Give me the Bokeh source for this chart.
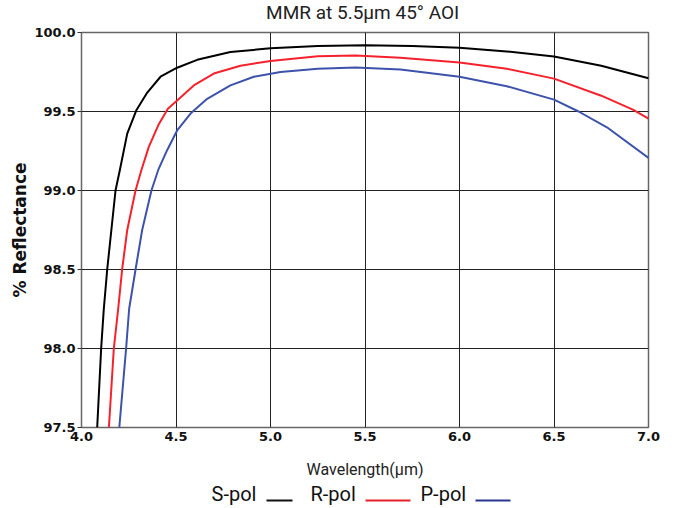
from bokeh.plotting import figure
from bokeh.models import Range1d, FixedTicker, NumeralTickFormatter
from bokeh.layouts import column
from bokeh.core.properties import value
from bokeh.embed import file_html
from bokeh.resources import INLINE

title_text = "MMR  at 5.5\u03bcm 45\u00b0 AOI"
x_label = "Wavelength(\u03bcm)"
y_label = "% Reflectance"
x_ticks = [4.0, 4.5, 5.0, 5.5, 6.0, 6.5, 7.0]
y_ticks = [97.5, 98.0, 98.5, 99.0, 99.5, 100.0]

# S-pol (black)
wl_s = [4.083, 4.104, 4.118, 4.136, 4.180, 4.203, 4.242, 4.291, 4.348, 4.418, 4.506,
        4.612, 4.788, 5.0, 5.25, 5.5, 5.75, 6.0, 6.25, 6.5, 6.75, 7.0]
r_s = [97.5, 98.0, 98.25, 98.5, 99.0, 99.13, 99.36, 99.51, 99.62, 99.72, 99.777,
       99.827, 99.876, 99.900, 99.915, 99.92, 99.915, 99.903, 99.88, 99.848, 99.79, 99.71]

# R-pol (red)
wl_r = [4.145, 4.171, 4.194, 4.215, 4.242, 4.286, 4.317, 4.356, 4.409, 4.457, 4.506,
        4.594, 4.70, 4.841, 5.0, 5.25, 5.45, 5.688, 6.0, 6.25, 6.5, 6.75, 6.92, 7.0]
r_r = [97.5, 98.0, 98.25, 98.5, 98.75, 99.0, 99.13, 99.276, 99.42, 99.518, 99.57,
       99.665, 99.74, 99.79, 99.82, 99.85, 99.855, 99.84, 99.81, 99.77, 99.708, 99.60, 99.51, 99.455]

# P-pol (blue)
wl_p = [4.20, 4.236, 4.252, 4.286, 4.321, 4.370, 4.406, 4.453, 4.506, 4.577, 4.665,
        4.788, 4.912, 5.053, 5.25, 5.45, 5.688, 6.0, 6.25, 6.5, 6.63, 6.78, 7.0]
r_p = [97.5, 98.0, 98.25, 98.5, 98.75, 99.0, 99.13, 99.255, 99.38, 99.487, 99.58,
       99.665, 99.72, 99.75, 99.77, 99.778, 99.766, 99.72, 99.66, 99.575, 99.50, 99.40, 99.206]

series_names = ["S-pol", "R-pol", "P-pol"]
series_colors = ["#000000", "#f5222d", "#3d52ab"]
legend_colors = ["#111111", "#e8202a", "#2a3590"]

W = 667
FRAME_L, FRAME_R = 81, 648  # frame edges in page pixels


def strip(height, y_top):
    """Axis-less figure whose coordinates are page pixels (y grows downward)."""
    f = figure(width=W, height=height,
               x_range=Range1d(FRAME_L, FRAME_R), y_range=Range1d(y_top + height, y_top),
               output_backend="svg", toolbar_location=None,
               x_axis_type=None, y_axis_type=None,
               min_border_left=FRAME_L, min_border_right=W - FRAME_R,
               min_border_top=0, min_border_bottom=0)
    f.outline_line_color = None
    f.grid.visible = False
    return f


# title strip
TH = 24
t = strip(TH, 0)
t.text(x=[(FRAME_L + FRAME_R) / 2], y=[11.5], text=[title_text], text_font=value("Roboto"),
       text_font_size="19px", text_baseline="middle", text_align="center",
       text_color="#222222")

# main chart
MH = 457
p = figure(width=W, height=MH, x_range=Range1d(4.0, 7.0), y_range=Range1d(97.5, 100.0),
           output_backend="svg", toolbar_location=None,
           min_border_left=FRAME_L, min_border_right=W - FRAME_R,
           min_border_top=32 - TH, min_border_bottom=53)

p.outline_line_color = "#666666"
p.outline_line_width = 1.5
p.grid.grid_line_color = "#222222"
p.grid.grid_line_width = 1
p.grid.grid_line_alpha = 1.0

p.xaxis.ticker = FixedTicker(ticks=x_ticks)
p.yaxis.ticker = FixedTicker(ticks=y_ticks)
p.xaxis.formatter = NumeralTickFormatter(format="0.0")
p.yaxis.formatter = NumeralTickFormatter(format="0.0")
p.xgrid.ticker = FixedTicker(ticks=x_ticks)
p.ygrid.ticker = FixedTicker(ticks=y_ticks)

for ax in (p.xaxis[0], p.yaxis[0]):
    ax.axis_line_color = None
    ax.minor_tick_line_color = None
    ax.major_tick_in = 0
    ax.major_label_text_font = "DejaVu Sans"
    ax.major_label_text_font_style = "bold"
    ax.major_label_text_font_size = "13px"
    ax.major_label_text_color = "#111111"

p.xaxis.major_tick_out = 0
p.xaxis.major_label_standoff = 4
p.xaxis.axis_label = x_label
p.xaxis.axis_label_text_font = "Roboto"
p.xaxis.axis_label_text_font_style = "normal"
p.xaxis.axis_label_text_font_size = "16px"
p.xaxis.axis_label_text_color = "#222222"
p.xaxis.axis_label_standoff = 16

p.yaxis.major_tick_out = 4
p.yaxis.major_tick_line_color = "#333333"
p.yaxis.major_label_standoff = 2
p.yaxis.axis_label = y_label
p.yaxis.axis_label_text_font = "DejaVu Sans"
p.yaxis.axis_label_text_font_style = "bold"
p.yaxis.axis_label_text_font_size = "17px"
p.yaxis.axis_label_text_color = "#111111"
p.yaxis.axis_label_standoff = 1

for wl, r, c in zip([wl_s, wl_r, wl_p], [r_s, r_r, r_p], series_colors):
    p.line(wl, r, line_color=c, line_width=2)

# legend strip below (page-pixel coordinates)
LY = TH + MH
leg = strip(508 - LY, LY)
leg_text_x = [211, 310, 420]
leg_line_x0 = [266, 365, 475]
leg_line_x1 = [292, 410, 510]
leg.text(x=leg_text_x, y=[493] * 3, text=series_names, text_font=value("Roboto"),
         text_font_size="20px", text_baseline="middle", text_align="left",
         text_color="#111111")
leg.segment(x0=leg_line_x0, y0=[500] * 3, x1=leg_line_x1, y1=[500] * 3,
            line_color=legend_colors, line_width=2)

layout = column(t, p, leg, spacing=0)
open("out.html", "w").write(file_html(layout, INLINE))
